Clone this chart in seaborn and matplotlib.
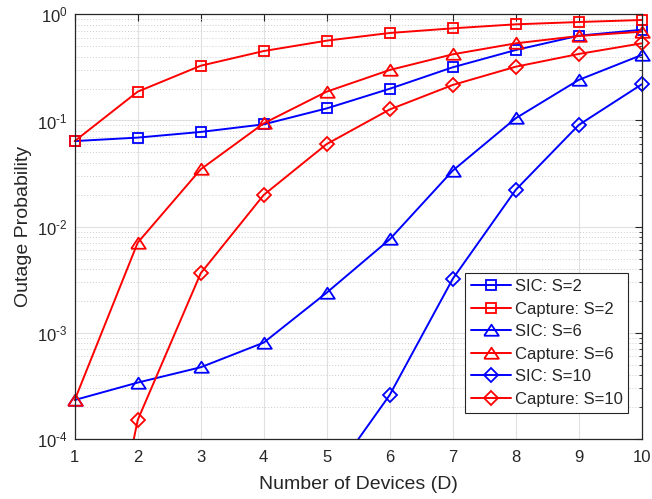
import numpy as np
import pandas as pd
import matplotlib
matplotlib.use("Agg")
import matplotlib.pyplot as plt
from matplotlib.patches import Rectangle
from matplotlib.ticker import LogLocator, NullFormatter, FixedLocator, FuncFormatter
import seaborn as sns

# Number of devices on the x axis
devices = [1, 2, 3, 4, 5, 6, 7, 8, 9, 10]

# Outage probability per scheme and spreading factor S
sic_s2 = [0.064, 0.069, 0.078, 0.092, 0.130, 0.199, 0.317, 0.461, 0.629, 0.715]
cap_s2 = [0.064, 0.187, 0.328, 0.451, 0.565, 0.667, 0.738, 0.805, 0.846, 0.884]
sic_s6 = [2.33e-4, 3.40e-4, 4.74e-4, 8.09e-4, 2.39e-3, 7.6e-3, 0.0337, 0.105, 0.241, 0.414]
cap_s6 = [2.33e-4, 7.07e-3, 0.0347, 0.094, 0.187, 0.299, 0.420, 0.533, 0.625, 0.686]
sic_s10 = [1e-8, 5e-8, 3e-7, 3e-6, 3.8e-5, 2.6e-4, 3.22e-3, 0.0222, 0.0907, 0.219]
cap_s10 = [2e-7, 1.51e-4, 3.64e-3, 0.0199, 0.060, 0.127, 0.216, 0.321, 0.423, 0.533]

series_labels = ["SIC: S=2", "Capture: S=2", "SIC: S=6",
                 "Capture: S=6", "SIC: S=10", "Capture: S=10"]
series_values = [sic_s2, cap_s2, sic_s6, cap_s6, sic_s10, cap_s10]

sns.set_theme(style="white")
plt.rcParams["font.family"] = ["Liberation Sans", "DejaVu Sans"]
plt.rcParams["mathtext.fontset"] = "custom"
plt.rcParams["mathtext.rm"] = "Liberation Sans"
plt.rcParams["mathtext.it"] = "Liberation Sans:italic"
plt.rcParams["axes.unicode_minus"] = False

# Wide, flat triangle like the MATLAB marker
tri = [(-1.0, -0.72), (1.0, -0.72), (0.0, 0.80), (-1.0, -0.72)]
markers = ["s", "s", tri, tri, "D", "D"]
msizes = [6.8, 6.8, 10.5, 10.5, 6.8, 6.8]
colors = ["#0000ff", "#ff0000"] * 3

fig = plt.figure(figsize=(6.52, 4.99), dpi=100)
ax = fig.add_axes([0.1146, 0.1202, 0.8696, 0.8511])
ax.set_yscale("log")

for label, vals, mk, ms, col in zip(series_labels, series_values, markers, msizes, colors):
    df = pd.DataFrame({"D": devices, "P": vals})
    sns.lineplot(data=df, x="D", y="P", ax=ax, color=col, linewidth=1.4,
                 marker=mk, markersize=ms, markerfacecolor="none",
                 markeredgecolor=col, markeredgewidth=1.3, label=label)

# Let end markers spill past the left/right frame, but keep the bottom clipped
clip_rect = Rectangle((-0.04, 0.0), 1.08, 1.05, transform=ax.transAxes,
                      facecolor="none", edgecolor="none")
for ln in ax.get_lines():
    ln.set_clip_path(clip_rect)


def decade_label(v, pos):
    e = int(round(np.log10(v)))
    return r"10$^{\text{%d}}$" % e


ax.set_xlim(1, 10)
ax.set_ylim(1e-4, 1)
ax.xaxis.set_major_locator(FixedLocator(devices))
ax.yaxis.set_major_locator(LogLocator(base=10, numticks=10))
ax.yaxis.set_major_formatter(FuncFormatter(decade_label))
ax.yaxis.set_minor_locator(LogLocator(base=10, subs=np.arange(2, 10), numticks=20))
ax.yaxis.set_minor_formatter(NullFormatter())

tick_col = "#262626"
ax.grid(True, which="major", color="#e0e0e0", linewidth=0.8, linestyle="-")
ax.grid(True, which="minor", axis="y", color="#cccccc", linewidth=0.7, linestyle=(0, (1, 2)))
ax.set_axisbelow(True)

ax.tick_params(which="both", direction="in", top=True, right=True,
               colors=tick_col, labelsize=12)
ax.tick_params(axis="x", pad=8)
ax.tick_params(axis="y", pad=5)
ax.tick_params(which="major", length=5, width=0.8)
ax.tick_params(which="minor", length=2.5, width=0.6)
for sp in ax.spines.values():
    sp.set_color(tick_col)
    sp.set_linewidth(0.9)

ax.set_xlabel("Number of Devices (D)", fontsize=14, color=tick_col, labelpad=8)
ax.set_ylabel("Outage Probability", fontsize=14, color=tick_col, labelpad=4)

leg = ax.legend(loc="lower right", bbox_to_anchor=(0.9764, 0.0621),
                fontsize=12, frameon=True, fancybox=False, framealpha=1,
                edgecolor=tick_col, borderpad=0.35, labelspacing=0.45,
                handlelength=2.4, handletextpad=0.2, borderaxespad=0)
leg.get_frame().set_linewidth(0.8)
for t in leg.get_texts():
    t.set_color(tick_col)

fig.savefig("out.png", dpi=100)
